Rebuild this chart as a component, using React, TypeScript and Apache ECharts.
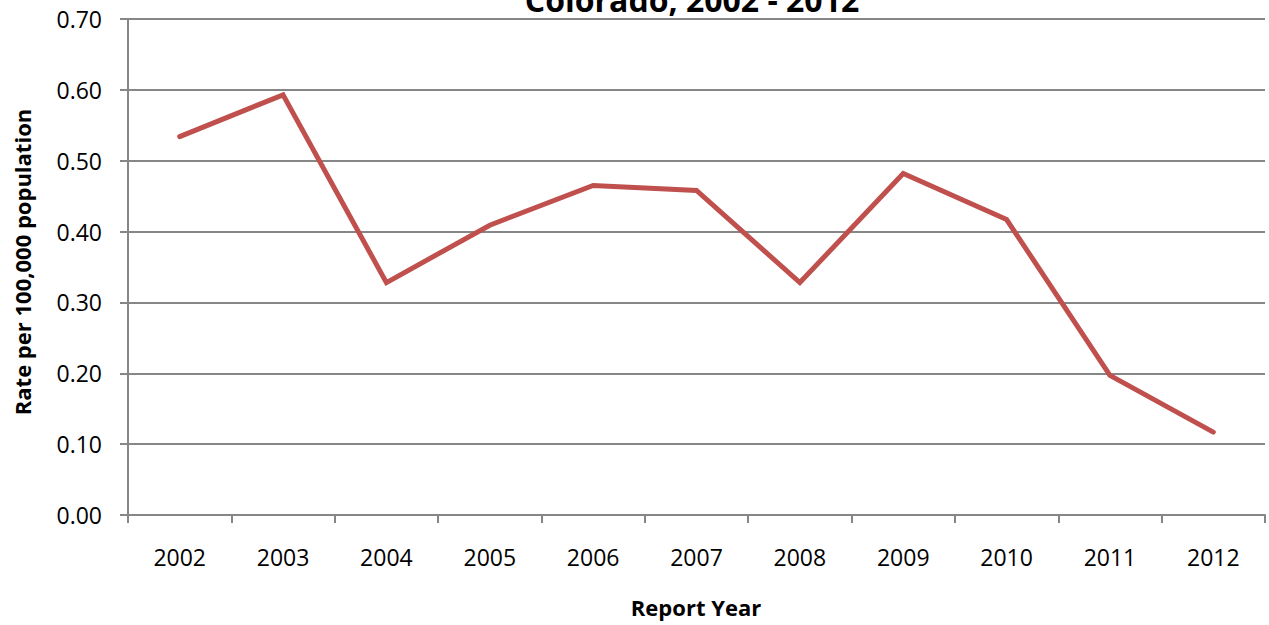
import React, { useEffect, useRef } from "react";
import * as echarts from "echarts";

const years = ["2002", "2003", "2004", "2005", "2006", "2007", "2008", "2009", "2010", "2011", "2012"];
const rates = [0.534, 0.593, 0.328, 0.409, 0.465, 0.458, 0.328, 0.482, 0.417, 0.197, 0.117];
const titleText = "Colorado, 2002 - 2012";
const yAxisTitle = "Rate per 100,000 population";
const xAxisTitle = "Report Year";

const FONT = "'Open Sans', sans-serif";
const GRAY = "#868686";

export default function App() {
  const ref = useRef<HTMLDivElement>(null);

  useEffect(() => {
    if (!ref.current) return;
    const chart = echarts.init(ref.current, undefined, { renderer: "svg" });
    chart.setOption({
      animation: false,
      backgroundColor: "#ffffff",
      textStyle: { fontFamily: FONT },
      grid: { left: 128, right: 4, top: 19, bottom: 110, containLabel: false },
      graphic: [
        {
          type: "text",
          x: 692,
          y: -17,
          style: {
            text: titleText,
            font: `bold 32px ${FONT}`,
            fill: "#000000",
            align: "center",
            verticalAlign: "top",
          },
        },
        {
          type: "text",
          x: 22,
          y: 262,
          rotation: Math.PI / 2,
          style: {
            text: yAxisTitle,
            font: `bold 22px ${FONT}`,
            fill: "#000000",
            align: "center",
            verticalAlign: "middle",
          },
        },
        {
          type: "text",
          x: 696,
          y: 607,
          style: {
            text: xAxisTitle,
            font: `bold 22px ${FONT}`,
            fill: "#000000",
            align: "center",
            verticalAlign: "middle",
          },
        },
      ],
      xAxis: {
        type: "category",
        data: years,
        boundaryGap: true,
        axisLine: { show: true, lineStyle: { color: GRAY, width: 2 } },
        axisTick: { show: true, alignWithLabel: false, length: 8, lineStyle: { color: GRAY, width: 2 } },
        axisLabel: { color: "#000000", fontSize: 23, fontFamily: FONT, margin: 30 },
        splitLine: { show: false },
      },
      yAxis: {
        type: "value",
        min: 0,
        max: 0.7,
        interval: 0.1,
        axisLine: { show: true, lineStyle: { color: GRAY, width: 2 } },
        axisTick: { show: true, length: 8, lineStyle: { color: GRAY, width: 2 } },
        axisLabel: {
          color: "#000000",
          fontSize: 23,
          fontFamily: FONT,
          margin: 26,
          formatter: (v: number) => v.toFixed(2),
        },
        splitLine: { show: true, lineStyle: { color: GRAY, width: 2 } },
      },
      series: [
        {
          type: "line",
          data: rates,
          symbol: "none",
          lineStyle: { color: "#C0504D", width: 5, cap: "round", join: "miter" },
          itemStyle: { color: "#C0504D" },
        },
      ],
    });
    return () => chart.dispose();
  }, []);

  return (
    <div
      ref={ref}
      style={{ position: "fixed", left: 0, top: 0, width: 1269, height: 625, background: "#fff" }}
    />
  );
}
